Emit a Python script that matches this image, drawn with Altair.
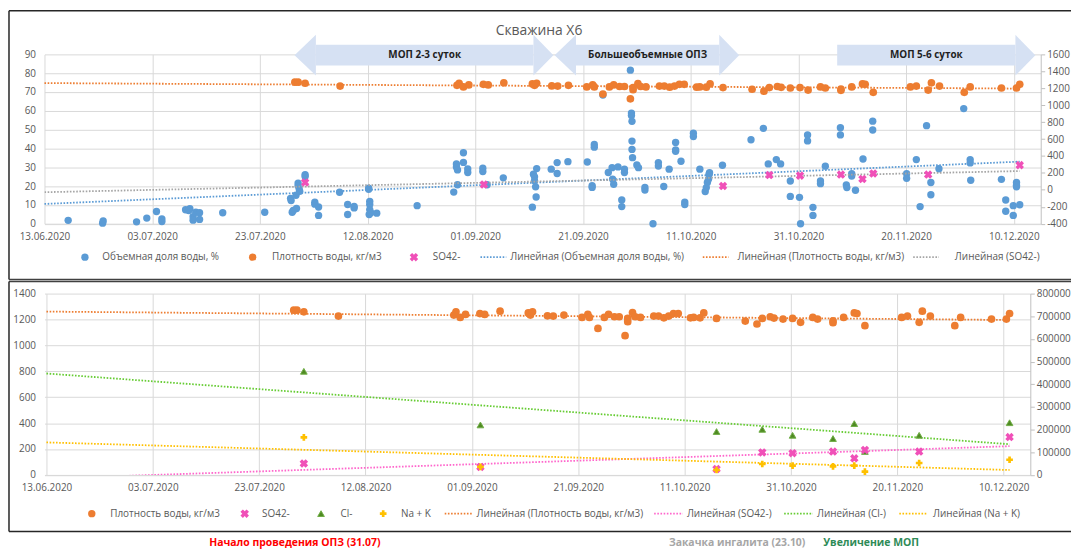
import altair as alt
import pandas as pd

# ---------------- data (x = days since 13.06.2020) ----------------
water_days = [4.4, 10.8, 10.9, 17.1, 19.0, 20.8, 21.8, 21.8, 26.2, 27.0, 26.8, 27.6, 27.6, 28.1, 28.8, 28.8,
              33.1, 40.9, 45.7, 45.8, 46.0, 46.2, 46.7, 46.8, 47.1, 47.1, 47.3, 47.4, 48.4, 48.4, 50.2, 50.2,
              50.9, 50.9, 54.8, 56.3, 56.3, 57.5, 57.5, 60.2, 60.2, 60.4, 60.4, 60.4, 60.3, 60.6, 61.7, 69.2,
              76.0, 76.5, 76.5, 76.7, 76.7, 77.8, 77.8, 78.6, 78.6, 81.4, 81.4, 82.2, 85.2,
              90.6, 90.8, 91.0, 91.0, 91.2, 91.3, 91.4, 94.1, 95.2, 95.2, 97.2, 100.8, 101.7, 101.7, 102.1,
              102.1, 103.7, 104.7, 105.4, 105.5, 105.7, 106.5, 107.2, 107.2, 107.7, 107.7, 108.8, 109.0, 109.0,
              109.1, 109.1, 109.1, 109.2, 110.0, 110.3, 111.5, 111.5, 113.0, 114.0, 114.0, 115.0, 116.0, 117.2,
              117.2, 117.2, 118.2, 118.9, 118.9,
              120.5, 120.5, 121.7, 122.7, 122.9, 123.1, 123.3, 123.4, 123.5, 125.9, 131.2, 133.5, 134.4, 135.9,
              136.7, 138.5, 138.5, 140.2, 140.4, 141.7, 141.7, 142.7, 142.7, 144.1, 144.1, 145.0, 147.8, 147.8,
              148.9, 149.0, 149.9, 149.9, 150.6, 152.0, 153.8, 153.8, 160.1, 160.1, 161.9, 162.6, 163.8, 164.6,
              164.6, 166.1, 170.7, 171.9, 171.9, 172.0, 177.7, 178.5, 178.5, 179.9, 179.9, 180.5, 180.5, 180.5,
              181.1]
water_vals = [1.8, 0.3, 1.5, 1.0, 3.0, 6.5, 2.6, 1.2, 7.4, 8.0, 7.0, 3.7, 1.9, 6.1, 5.8, 2.3,
              5.8, 6.1, 13.5, 12.3, 6.1, 7.0, 15.1, 8.1, 21.6, 20.2, 18.4, 17.2, 26.0, 25.1, 11.4, 10.4,
              8.9, 4.4, 16.7, 10.2, 4.9, 8.4, 9.2, 18.9, 18.3, 11.9, 10.2, 7.5, 4.9, 5.8, 5.6, 9.6,
              16.8, 31.8, 30.2, 28.6, 20.7, 37.7, 32.6, 29.1, 27.2, 29.5, 27.7, 20.7, 24.4,
              8.8, 26.3, 24.9, 22.8, 19.6, 14.2, 29.3, 29.0, 32.5, 26.7, 33.0, 32.8, 20.2, 19.3, 42.1,
              40.7, 68.4, 27.2, 29.8, 23.7, 21.0, 30.2, 12.6, 9.1, 29.0, 27.2, 81.6, 58.8, 57.5,
              54.4, 43.9, 39.5, 35.1, 31.2, 29.8, 19.3, 17.9, 0.0, 32.5, 30.7, 19.8, 29.0, 43.2,
              39.2, 38.5, 33.2, 11.5, 10.2,
              48.1, 46.3, 29.0, 17.1, 19.2, 21.9, 23.6, 26.2, 27.1, 31.1, 44.6, 50.7, 31.8, 34.1,
              31.8, 22.7, 14.5, 14.0, 0.0, 47.2, 44.0, 8.7, 4.4, 22.7, 21.3, 30.6, 51.0, 47.2,
              20.6, 19.2, 26.6, 25.3, 17.8, 34.4, 54.5, 49.8, 26.6, 24.1, 34.1, 9.1, 52.1, 21.9,
              15.4, 29.2, 61.2, 34.1, 32.3, 23.1, 23.6, 12.6, 6.6, 9.6, 4.4, 21.9, 20.5, 19.6,
              10.1]

dens_days = [46.5, 47.1, 48.4, 54.9, 76.6, 77.0, 77.8, 78.8, 81.5, 82.4, 85.3, 90.6, 91.0, 91.4, 94.2, 95.3,
             97.3, 100.7, 101.8, 102.1, 103.7, 104.9, 105.7, 106.8, 107.7, 108.8, 109.3, 109.3, 110.2, 110.7,
             111.7, 114.2, 115.1, 116.1, 117.0, 117.9, 118.8, 121.1, 121.7, 122.9, 123.6, 126.0, 131.4, 133.6,
             134.6, 136.1, 136.8, 138.5, 140.3, 141.8, 144.1, 145.0, 147.9, 147.9, 149.9, 151.9, 152.4, 153.9,
             160.8, 161.9, 164.1, 164.7, 166.2, 170.8, 171.9, 177.7, 180.5, 181.1]
dens_vals = [1272, 1272, 1259, 1226, 1234, 1259, 1216, 1239, 1246, 1239, 1264, 1251, 1234, 1259, 1228, 1226,
             1234, 1216, 1239, 1216, 1131, 1216, 1239, 1221, 1221, 1075, 1183, 1208, 1254, 1221,
             1216, 1226, 1226, 1213, 1226, 1246, 1246, 1213, 1216, 1213, 1251, 1208, 1188, 1165,
             1208, 1221, 1211, 1203, 1208, 1178, 1216, 1203, 1175, 1190, 1216, 1251, 1246, 1152,
             1216, 1226, 1178, 1264, 1226, 1152, 1216, 1203, 1203, 1246]

ion_days = [48.4, 81.6, 126.0, 134.6, 140.3, 147.9, 151.9, 153.9, 164.1, 181.1]
so4_vals = [88, 62, 46, 174, 168, 180, 128, 193, 180, 292]
cl_vals = [800, 386, 335, 352, 306, 281, 396, 181, 306, 403]
nak_vals = [290, 62, 38, 84, 72, 66, 72, 26, 92, 117]

trend_days = [0.0, 181.1]
trend_water = [10.5, 33.0]
trend_dens = [1261, 1196]
trend_so4 = [-28, 222]
trend_cl = [783, 237]
trend_nak = [251, 38]

x_ticks = [0, 20, 40, 60, 80, 100, 120, 140, 160, 180]
top_left_ticks = list(range(0, 91, 10))
top_right_ticks = list(range(-400, 1601, 200))
low_left_ticks = list(range(0, 1401, 200))
low_right_ticks = list(range(0, 800001, 100000))

arrow_labels = ["МОП 2-3 суток", "Большеобъемные ОПЗ", "МОП 5-6 суток"]
arrow_start = [50.4, 98.7, 147.2]
arrow_end = [90.8, 125.3, 180.3]
arrow_left_head = [True, True, False]

chart_title = "Скважина Х6"
top_legend_labels = ["Объемная доля воды, %", "Плотность воды, кг/м3", "SO42-",
                     "Линейная (Объемная доля воды, %)", "Линейная (Плотность воды, кг/м3)", "Линейная (SO42-)"]
low_legend_labels = ["Плотность воды, кг/м3", "SO42-", "Cl-", "Na + K",
                     "Линейная (Плотность воды, кг/м3)", "Линейная (SO42-)", "Линейная (Cl-)", "Линейная (Na + K)"]
footer_labels = ["Начало проведения ОПЗ (31.07)", "Закачка ингалита (23.10)", "Увеличение МОП"]

# ---------------- style ----------------
FONT = "Open Sans"
GRAY = "#595959"
GRID = "#D9D9D9"
AXC = "#BFBFBF"
BLUE = "#5B9BD5"
ORANGE = "#ED7D31"
PINK = "#F050B8"
GREEN_F = "#4F8A22"
GREEN_E = "#70AD47"
YELLOW = "#FFC000"
T_GRAY = "#A5A5A5"
T_PINK = "#FF66CC"
T_GREEN = "#66CC33"
ARROW = "#D6E1F3"
DASH = [1.6, 1.6]
ONE = pd.DataFrame({"a": [1]})

PAGE_W, PAGE_H = 1071.0, 541.0
X0, Y0 = 44.75, 52.7            # page position of the top plot origin (and left edge of both plots)
TOP_W, TOP_H = 1048.5 - X0, 170.6
LOW_W, LOW_H = 1038.0 - X0, 182.7
LOW_Y0 = 293.3
LOW_PRE = 2.0 * 185.0 / (LOW_W - 2.0)   # lower x axis starts 2px before 13.06.2020

X_AXIS = alt.Axis(values=x_ticks,
                  labelExpr="timeFormat(datetime(2020, 5, 13 + datum.value), '%d.%m.%Y')",
                  grid=True, gridColor=GRID, ticks=False, domain=True, domainColor=GRID,
                  labelPadding=8, labelFlush=False, labelOverlap=False, title=None)


def xenc(field="d", dom=(0, 185)):
    return alt.X(f"{field}:Q", scale=alt.Scale(domain=list(dom), nice=False, zero=False), axis=X_AXIS)


def yleft(dom, ticks):
    return alt.Y("v:Q", scale=alt.Scale(domain=dom, nice=False, zero=False),
                 axis=alt.Axis(orient="left", values=ticks, grid=True, gridColor=GRID, ticks=False,
                               domain=False, labelPadding=9, labelFlush=False, title=None,
                               labelExpr="'' + datum.value"))


def yright(dom, ticks):
    return alt.Y("v:Q", scale=alt.Scale(domain=dom, nice=False, zero=False),
                 axis=alt.Axis(orient="right", values=ticks, grid=False, ticks=True, tickSize=4,
                               tickColor=AXC, domain=True, domainColor=AXC, labelPadding=2,
                               labelFlush=False, title=None, labelExpr="'' + datum.value"))


def df(days, vals):
    return pd.DataFrame({"d": days, "v": vals})


def trend(days, vals, color, y, dom, clip=False):
    return alt.Chart(df(days, vals)).mark_line(strokeDash=DASH, strokeWidth=1.8, color=color, clip=clip).encode(
        x=xenc(dom=dom), y=y)


def circles(days, vals, color, y, dom, size=55):
    return alt.Chart(df(days, vals)).mark_point(shape="circle", filled=True, size=size, opacity=1,
                                                color=color, strokeWidth=0).encode(x=xenc(dom=dom), y=y)


def xmarks(days, vals, y, dom):
    return alt.Chart(df(days, vals)).mark_point(shape="cross", angle=45, filled=True, size=75, opacity=1,
                                                color=PINK, strokeWidth=0).encode(x=xenc(dom=dom), y=y)


def text(s, x, y, size=10, color=GRAY, weight="normal", align="left"):
    return alt.Chart(ONE).mark_text(text=s, font=FONT, fontSize=size, color=color, fontWeight=weight,
                                    align=align, baseline="middle").encode(x=alt.value(x), y=alt.value(y))


def sym(kind, color, x, y):
    if kind == "circle":
        m = alt.Chart(ONE).mark_point(shape="circle", filled=True, size=55, opacity=1, color=color, strokeWidth=0)
    elif kind == "x":
        m = alt.Chart(ONE).mark_point(shape="cross", angle=45, filled=True, size=75, opacity=1, color=color,
                                      strokeWidth=0)
    elif kind == "tri":
        m = alt.Chart(ONE).mark_point(shape="triangle-up", filled=True, size=45, opacity=1, fill=GREEN_F,
                                      stroke=GREEN_E, strokeWidth=1)
    else:
        m = alt.Chart(ONE).mark_point(shape="cross", filled=True, size=45, opacity=1, color=color, strokeWidth=0)
    return m.encode(x=alt.value(x), y=alt.value(y))


def dline(color, x1, x2, y):
    return alt.Chart(ONE).mark_rule(strokeDash=DASH, strokeWidth=1.8, color=color).encode(
        x=alt.value(x1), x2=alt.value(x2), y=alt.value(y))


def hline(x1, x2, y, color="#262626", w=1.5):
    return alt.Chart(ONE).mark_rule(strokeWidth=w, color=color).encode(
        x=alt.value(x1), x2=alt.value(x2), y=alt.value(y))


def vline(x, y1, y2, color="#262626", w=1.5):
    return alt.Chart(ONE).mark_rule(strokeWidth=w, color=color).encode(
        x=alt.value(x), y=alt.value(y1), y2=alt.value(y2))


def px(page_x):
    return page_x - X0


# ---------------- top panel ----------------
TDOM = (0, 185)


def ty(py):
    return py - Y0


YTL = yleft([0, 90], top_left_ticks)
YTR = yright([-400, 1600], top_right_ticks)

top_left = alt.layer(
    trend(trend_days, trend_water, BLUE, YTL, TDOM),
    circles(water_days, water_vals, BLUE, YTL, TDOM),
)
top_right = alt.layer(
    trend(trend_days, trend_dens, ORANGE, YTR, TDOM),
    trend(trend_days, trend_so4, T_GRAY, YTR, TDOM, clip=True),
    circles(dens_days, dens_vals, ORANGE, YTR, TDOM, size=60),
    xmarks(ion_days, so4_vals, YTR, TDOM),
)

arr = pd.DataFrame({"s": arrow_start, "e": arrow_end, "t": arrow_labels, "lh": arrow_left_head})
arrow_body = alt.Chart(arr).mark_rect(color=ARROW).encode(
    x=xenc("s"), x2="e:Q", y=alt.value(ty(43)), y2=alt.value(ty(64)))
head_size = 41 ** 2
arrow_rhead = alt.Chart(arr).mark_point(shape="M0,-1L0.98,0L0,1Z", filled=True, size=head_size, opacity=1,
                                        color=ARROW, strokeWidth=0).encode(x=xenc("e"), y=alt.value(ty(53.5)))
arrow_lhead = alt.Chart(arr).transform_filter("datum.lh").mark_point(
    shape="M0,-1L-1.05,0L0,1Z", filled=True, size=head_size, opacity=1, color=ARROW, strokeWidth=0).encode(
    x=xenc("s"), y=alt.value(ty(53.5)))
arrow_text = alt.Chart(arr).transform_calculate(m="(datum.s + datum.e) / 2").mark_text(
    font=FONT, fontSize=10, fontWeight="bold", color="#1F1F1F", baseline="middle").encode(
    x=xenc("m"), y=alt.value(ty(53.5)), text="t:N")

tly = ty(257)
top_annot = [
    text(chart_title, px(543), ty(29), size=14, align="center"),
    sym("circle", BLUE, px(85.5), tly), text(top_legend_labels[0], px(103), tly),
    sym("circle", ORANGE, px(254.5), tly), text(top_legend_labels[1], px(274), tly),
    sym("x", PINK, px(417), tly), text(top_legend_labels[2], px(436), tly),
    dline(BLUE, px(484), px(510), tly), text(top_legend_labels[3], px(514), tly),
    dline(ORANGE, px(708), px(734), tly), text(top_legend_labels[4], px(743), tly),
    dline(T_GRAY, px(920), px(946), tly), text(top_legend_labels[5], px(962), tly),
    hline(px(9), px(1079), ty(8.75)),
    vline(px(9), ty(8.75), ty(279.5)),
    hline(px(9), px(1079), ty(279.5), color="#404040"),
]

top = alt.layer(
    arrow_body, arrow_rhead, arrow_lhead, arrow_text,
    top_left, top_right, *top_annot
).resolve_scale(y="independent").properties(width=TOP_W, height=TOP_H)

# ---------------- lower panel ----------------
LDOM = (-LOW_PRE, 185)


def ly(py):
    return py - LOW_Y0


YLL = yleft([0, 1400], low_left_ticks)
YLR = yright([0, 800000], low_right_ticks)

low_left = alt.layer(
    trend(trend_days, trend_dens, ORANGE, YLL, LDOM),
    trend(trend_days, trend_so4, T_PINK, YLL, LDOM, clip=True),
    trend(trend_days, trend_cl, T_GREEN, YLL, LDOM),
    trend(trend_days, trend_nak, YELLOW, YLL, LDOM),
    circles(dens_days, dens_vals, ORANGE, YLL, LDOM, size=60),
    alt.Chart(df(ion_days, cl_vals)).mark_point(shape="triangle-up", filled=True, size=45, opacity=1,
                                                fill=GREEN_F, stroke=GREEN_E, strokeWidth=1).encode(
        x=xenc(dom=LDOM), y=YLL),
    xmarks(ion_days, so4_vals, YLL, LDOM),
    alt.Chart(df(ion_days, nak_vals)).mark_point(shape="cross", filled=True, size=45, opacity=1,
                                                 color=YELLOW, strokeWidth=0).encode(x=xenc(dom=LDOM), y=YLL),
)
low_right = alt.Chart(df([0.0], [0])).mark_point(opacity=0).encode(x=xenc(dom=LDOM), y=YLR)

lly = ly(515)
low_annot = [
    sym("circle", ORANGE, px(92.4), lly), text(low_legend_labels[0], px(111), lly),
    sym("x", PINK, px(246.5), lly), text(low_legend_labels[1], px(264), lly),
    sym("tri", GREEN_F, px(323.4), lly), text(low_legend_labels[2], px(343), lly),
    sym("plus", YELLOW, px(386), lly), text(low_legend_labels[3], px(404), lly),
    dline(ORANGE, px(448), px(476), lly), text(low_legend_labels[4], px(480), lly),
    dline(T_PINK, px(659), px(688), lly), text(low_legend_labels[5], px(692), lly),
    dline(T_GREEN, px(790), px(819), lly), text(low_legend_labels[6], px(823), lly),
    dline(YELLOW, px(906), px(934), lly), text(low_legend_labels[7], px(940), lly),
    hline(px(9), px(1079), ly(281.2), color="#404040"),
    vline(px(9), ly(281.2), ly(533)),
    hline(px(9), px(1079), ly(533)),
    text(footer_labels[0], px(297), ly(545), size=10.5, color="#FF0000", weight="bold", align="center"),
    text(footer_labels[1], px(742.6), ly(545), size=10.5, color="#A6A6A6", weight="bold", align="center"),
    text(footer_labels[2], px(877.6), ly(545), size=10.5, color="#2E8B57", weight="bold", align="center"),
]

low = alt.layer(low_left, low_right, *low_annot).resolve_scale(y="independent").properties(
    width=LOW_W, height=LOW_H)

chart = alt.concat(top, low, columns=1, spacing=0, align="each", bounds="full").properties(
    autosize=alt.AutoSizeParams(type="none"),
    padding={"left": X0 - 8, "top": Y0 - 8, "right": PAGE_W - (X0 - 8), "bottom": PAGE_H - (Y0 - 8)},
).configure_view(strokeWidth=0).configure_axis(
    labelFont=FONT, labelFontSize=10, labelColor=GRAY
)

chart.save("out.html", embed_options={"renderer": "svg", "actions": False})
